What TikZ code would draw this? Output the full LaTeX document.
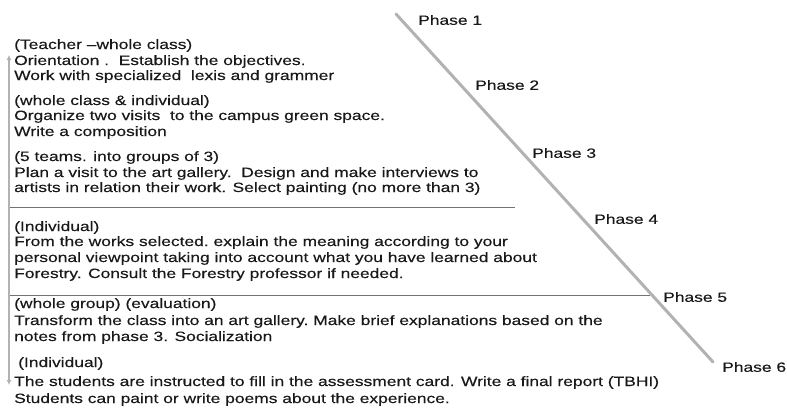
\documentclass[tikz,border=0pt]{standalone}
\usepackage{fontspec}
\setmainfont[FakeStretch=1.29,FakeBold=0.3]{Liberation Sans}
\usetikzlibrary{arrows.meta}
\begin{document}
\begin{tikzpicture}[x=1pt,y=-1pt,
  txt/.style={anchor=base west,inner sep=0pt,font=\fontsize{13.5}{16}\selectfont,text=black!90},
  phase/.style={anchor=west,inner sep=0pt,font=\fontsize{13.5}{16}\selectfont,text=black!90},
  rule/.style={draw=black!55,line width=1pt},
  axis/.style={draw=black!30,line width=1.5pt,{Latex[length=5pt,width=5pt]}-{Latex[length=5pt,width=5pt]}},
  diag/.style={draw=black!30,line width=3pt,line cap=round}]
\useasboundingbox (0,0) rectangle (787,410);
% coordinates
\coordinate (axtop) at (9,55);
\coordinate (axbot) at (9,385);
\coordinate (r1a) at (9,207);
\coordinate (r1b) at (515,207);
\coordinate (r2a) at (9,295);
\coordinate (r2b) at (650,295);
\coordinate (dtop) at (396,14);
\coordinate (dbot) at (713,362);
% lines
\draw[diag] (dtop) -- (dbot);
\draw[rule] (r1a) -- (r1b);
\draw[rule] (r2a) -- (r2b);
\draw[axis] (axtop) -- (axbot);
% group 1
\node[txt] (a1) at (14,49) {(Teacher –whole class)};
\node[txt] (a2) at (14,65) {Orientation .\ \ Establish the objectives.};
\node[txt] (a3) at (14,80) {Work with specialized\ \ lexis and grammer};
% group 2
\node[txt] (b1) at (14,105) {(whole class \& individual)};
\node[txt] (b2) at (14,120) {Organize two visits\ \ to the campus green space.};
\node[txt] (b3) at (14,136) {Write a composition};
% group 3
\node[txt] (c1) at (14,161) {(5 teams. into groups of 3)};
\node[txt] (c2) at (14,177) {Plan a visit to the art gallery.\ \ Design and make interviews to};
\node[txt] (c3) at (14,192) {artists in relation their work. Select painting (no more than 3)};
% group 4
\node[txt] (d1) at (14,231) {(Individual)};
\node[txt] (d2) at (14,246) {From the works selected.\ explain\ the meaning according to your};
\node[txt] (d3) at (14,262) {personal viewpoint taking into account what you have learned about};
\node[txt] (d4) at (14,278) {Forestry. Consult the Forestry professor if needed.};
% group 5
\node[txt] (e1) at (14,308) {(whole group)\ (evaluation)};
\node[txt] (e2) at (14,325) {Transform the class into an art gallery.\ Make brief explanations\ based\ on the};
\node[txt] (e3) at (14,341) {notes from phase 3. Socialization};
% group 6
\node[txt] (f1) at (18,367) {(Individual)};
\node[txt] (f2) at (14,386) {The students are instructed to fill in the assessment card. Write a final report (TBHI)};
\node[txt] (f3) at (14,403) {Students can paint or write poems about the experience.};
% phases
\node[phase] (p1) at (418,20) {Phase 1};
\node[phase] (p2) at (475,85) {Phase 2};
\node[phase] (p3) at (532,153) {Phase 3};
\node[phase] (p4) at (594,219) {Phase 4};
\node[phase] (p5) at (663,297) {Phase 5};
\node[phase] (p6) at (722,367) {Phase 6};
\end{tikzpicture}
\end{document}
